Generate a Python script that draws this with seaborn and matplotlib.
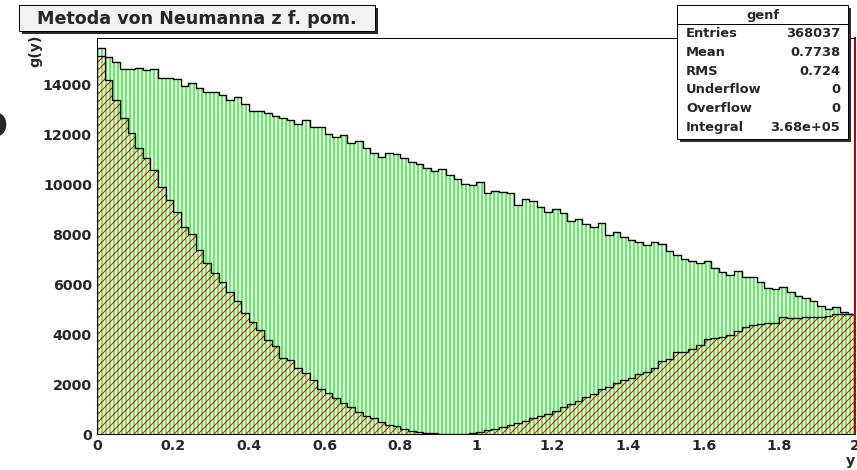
import numpy as np
import pandas as pd
import matplotlib.pyplot as plt
import seaborn as sns
from matplotlib.patches import Rectangle
from matplotlib.ticker import MultipleLocator

# bin contents, 100 bins on [0, 2]
genf_counts = [
    15100, 14160, 13360, 12630, 12030, 11430, 11050, 10560, 9890, 9360,
    8890, 8290, 8000, 7360, 6830, 6450, 6090, 5690, 5330, 4850,
    4490, 4160, 3760, 3520, 3030, 2960, 2630, 2450, 2160, 1790,
    1630, 1430, 1230, 1070, 890, 720, 630, 490, 360, 330,
    190, 130, 80, 40, 30, 15, 5, 0, 5, 50,
    90, 160, 210, 290, 360, 430, 530, 650, 720, 800,
    930, 1070, 1190, 1320, 1490, 1600, 1790, 1870, 2030, 2160,
    2230, 2400, 2490, 2630, 2930, 2990, 3280, 3280, 3390, 3560,
    3790, 3830, 3870, 3960, 4130, 4290, 4370, 4400, 4430, 4430,
    4690, 4630, 4630, 4670, 4690, 4690, 4700, 4790, 4780, 4800,
]
pom_counts = [
    15450, 15090, 14890, 14600, 14600, 14640, 14560, 14600, 14250, 14250,
    14200, 13930, 14030, 13830, 13690, 13670, 13560, 13360, 13470, 13200,
    12920, 12920, 12830, 12730, 12650, 12570, 12390, 12560, 12290, 12290,
    11990, 11890, 11950, 11650, 11730, 11430, 11250, 11090, 11250, 11200,
    11050, 10890, 10800, 10650, 10520, 10600, 10360, 10200, 10000, 9960,
    10070, 9650, 9730, 9680, 9630, 9160, 9390, 9330, 9070, 8870,
    9010, 8830, 8530, 8600, 8390, 8290, 8440, 7960, 8090, 7890,
    7760, 7690, 7560, 7670, 7600, 7330, 7160, 7010, 6930, 6830,
    6930, 6630, 6490, 6360, 6530, 6290, 6270, 6090, 5830, 5790,
    5870, 5690, 5520, 5450, 5330, 5120, 4990, 5070, 4890, 4800,
]
x_range = (0.0, 2.0)
n_bins = 100

title_text = "Metoda von Neumanna z f. pom."
hist_name = "genf"
stat_names = ["Entries", "Mean", "RMS", "Underflow", "Overflow", "Integral"]
stat_values = ["368037", "0.7738", "0.724", "0", "0", "3.68e+05"]

x_ticks = [0, 0.2, 0.4, 0.6, 0.8, 1.0, 1.2, 1.4, 1.6, 1.8, 2.0]
x_tick_labels = ["0", "0.2", "0.4", "0.6", "0.8", "1", "1.2", "1.4", "1.6", "1.8", "2"]
y_ticks = [0, 2000, 4000, 6000, 8000, 10000, 12000, 14000]
y_tick_labels = [str(v) for v in y_ticks]

DPI = 96
W, H = 857, 470


def pt(px):
    # pixel size -> points at the figure dpi
    return px * 72.0 / DPI


def fx(px):
    return px / W


def fy(py):
    return 1 - py / H


def pave(fig, x0, y0, x1, y1, face):
    # ROOT style box with a dark shadow at bottom/right
    shadow = Rectangle((fx(x0 + 3), fy(y1 + 3)), (x1 - x0) / W, (y1 - y0) / H,
                       transform=fig.transFigure, facecolor="#2a2a2a", edgecolor="none", zorder=5)
    box = Rectangle((fx(x0), fy(y1)), (x1 - x0) / W, (y1 - y0) / H,
                    transform=fig.transFigure, facecolor=face, edgecolor="black",
                    linewidth=pt(1), zorder=6)
    fig.add_artist(shadow)
    fig.add_artist(box)


def main():
    sns.set_style("white")
    plt.rcParams["font.family"] = ["DejaVu Sans"]
    plt.rcParams["font.weight"] = "bold"

    width = (x_range[1] - x_range[0]) / n_bins
    centers = x_range[0] + width * (np.arange(n_bins) + 0.5)
    df = pd.DataFrame({"y": centers, "genf": genf_counts, "pom": pom_counts})

    fig = plt.figure(figsize=((W + 0.2) / DPI, (H + 0.2) / DPI), dpi=DPI, facecolor="white")
    ax = fig.add_axes([fx(97.3), fy(434), fx(855) - fx(97.3), fy(37.7) - fy(434)])

    hist_kw = dict(bins=n_bins, binrange=x_range, ax=ax)

    # hatched areas first (green under red so the red lines stay clean), outlines on top
    plt.rcParams["hatch.linewidth"] = pt(1.4)
    sns.histplot(data=df, x="y", weights="pom", element="bars", fill=True,
                 facecolor="none", edgecolor="#00ff00", hatch="||||", linewidth=0, **hist_kw)
    plt.rcParams["hatch.linewidth"] = pt(1.1)
    sns.histplot(data=df, x="y", weights="genf", element="bars", fill=True,
                 facecolor="none", edgecolor="#ff0000", hatch="////", linewidth=0, **hist_kw)
    sns.histplot(data=df, x="y", weights="genf", element="step", fill=False,
                 color="black", linewidth=pt(1.4), **hist_kw)
    sns.histplot(data=df, x="y", weights="pom", element="step", fill=False,
                 color="black", linewidth=pt(1.4), **hist_kw)

    ax.set_xlim(*x_range)
    ax.set_ylim(0, 1.05 * max(genf_counts))

    ax.set_xticks(x_ticks, x_tick_labels)
    ax.set_yticks(y_ticks, y_tick_labels)
    ax.xaxis.set_minor_locator(MultipleLocator(0.05))
    ax.yaxis.set_minor_locator(MultipleLocator(500))
    ax.tick_params(axis="x", which="major", direction="in", length=pt(10), width=pt(1),
                   labelsize=pt(14.3), pad=pt(5), color="black")
    ax.tick_params(axis="x", which="minor", direction="in", length=pt(4), width=pt(1), color="black")
    ax.tick_params(axis="y", which="major", direction="in", length=pt(20), width=pt(1),
                   labelsize=pt(14.3), pad=pt(5.5), color="black")
    ax.tick_params(axis="y", which="minor", direction="in", length=pt(10), width=pt(1), color="black")

    for side in ["left", "bottom", "top"]:
        ax.spines[side].set_color("black")
        ax.spines[side].set_linewidth(pt(1))
    ax.spines["right"].set_color("#c00000")
    ax.spines["right"].set_linewidth(pt(2))

    ax.set_xlabel("y", loc="right", fontsize=pt(14.3), fontweight="bold")
    ax.xaxis.set_label_coords(1.0, -0.05)
    ax.set_ylabel("g(y)", loc="top", fontsize=pt(14.3), fontweight="bold")
    ax.yaxis.set_label_coords(-0.073, 1.007)

    # title pave
    pave(fig, 19, 5, 375, 31, "#f2f2f2")
    fig.text(fx(197), fy(18.5), title_text, ha="center", va="center",
             fontsize=pt(17.5), fontweight="bold", zorder=7)

    # stats pave
    pave(fig, 677, 5, 848, 139, "white")
    fig.add_artist(plt.Line2D([fx(677), fx(848)], [fy(24.5), fy(24.5)],
                              transform=fig.transFigure, color="black", linewidth=pt(1), zorder=7))
    fig.text(fx(762.5), fy(15), hist_name, ha="center", va="center",
             fontsize=pt(13), fontweight="bold", zorder=7)
    for i, (name, val) in enumerate(zip(stat_names, stat_values)):
        yy = 33.5 + 18.8 * i
        fig.text(fx(686), fy(yy), name, ha="left", va="center",
                 fontsize=pt(13), fontweight="bold", zorder=7)
        fig.text(fx(840), fy(yy), val, ha="right", va="center",
                 fontsize=pt(13), fontweight="bold", zorder=7)

    # glyph cut by the left border of the picture, as in the original
    fig.text(fx(-7), fy(127), "O", ha="center", va="center",
             fontsize=pt(34), fontweight="bold", zorder=7)

    fig.savefig("out.png", dpi=DPI, facecolor="white")
    plt.close(fig)


if __name__ == "__main__":
    main()
